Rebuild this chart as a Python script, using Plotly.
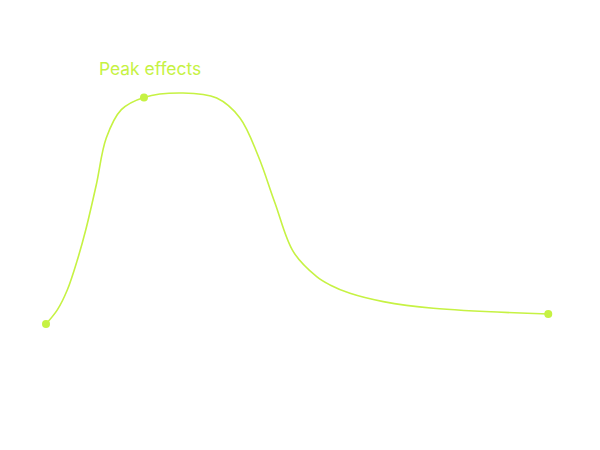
import plotly.graph_objects as go

# time (minutes) and effect intensity (%)
minutes = [0, 10.8, 20.3, 29.9, 37.9, 48.0, 57.5, 71.9, 93.5, 130.7, 162.9, 185.1, 202.6,
           218.5, 236.0, 258.3, 271.0, 290.1, 321.9, 369.6, 479.3]
intensity = [0, 6.1, 14.7, 27.7, 40.7, 60.3, 80.5, 92.8, 98.1, 100, 97.8, 89.2, 72.6,
             52.4, 31.3, 20.5, 16.9, 13.3, 9.7, 6.8, 4.3]

marker_minutes = [0, 93.5, 479.3]
marker_intensity = [0, 98.1, 4.3]
label = "Peak effects"

GREEN = "#c6f243"

fig = go.Figure()
fig.add_trace(go.Scatter(
    x=minutes, y=intensity, mode="lines",
    line=dict(color=GREEN, width=1.6, shape="spline", smoothing=1.0),
    hoverinfo="skip", showlegend=False,
))
fig.add_trace(go.Scatter(
    x=marker_minutes, y=marker_intensity, mode="markers",
    marker=dict(color=GREEN, size=8), cliponaxis=False,
    showlegend=False,
))
fig.add_annotation(
    x=marker_minutes[1], y=marker_intensity[1], text=label, showarrow=False,
    xshift=6, yshift=29, font=dict(family="Inter", size=17.4, color=GREEN),
)

px_per_min = 503 / 480
px_per_unit = 231 / 100
off = 8  # page body margin
fig.update_layout(
    width=600, height=450,
    margin=dict(l=0, r=0, t=0, b=0),
    paper_bgcolor="white", plot_bgcolor="white",
    xaxis=dict(visible=False, range=[(off - 46) / px_per_min, (600 + off - 46) / px_per_min]),
    yaxis=dict(visible=False, range=[(324 - 450 - off) / px_per_unit, (324 - off) / px_per_unit]),
)
fig.write_html("out.html")
